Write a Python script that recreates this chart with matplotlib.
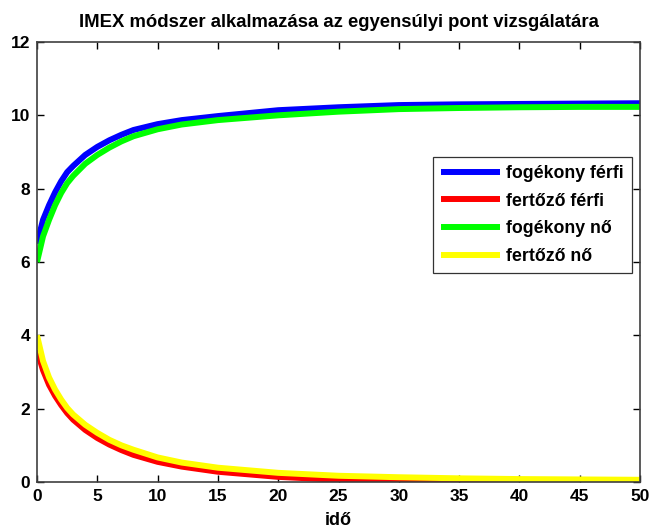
import numpy as np
import matplotlib
matplotlib.use("Agg")
import matplotlib.pyplot as plt

# values
t = [0, 0.5, 1, 1.5, 2, 2.5, 3, 4, 5, 6, 7, 8, 10, 12, 15, 20, 25, 30, 35, 40, 45, 50]
fogekony_ferfi = [6.5, 7.15, 7.55, 7.9, 8.2, 8.45, 8.62, 8.92, 9.14, 9.32, 9.47, 9.6, 9.76, 9.87, 9.98, 10.14, 10.22, 10.28, 10.3, 10.31, 10.32, 10.33]
fertozo_ferfi = [3.6, 3.05, 2.65, 2.35, 2.1, 1.88, 1.7, 1.42, 1.2, 1.02, 0.87, 0.74, 0.55, 0.42, 0.28, 0.14, 0.06, 0.02, 0.01, 0.0, 0.0, 0.0]
fogekony_no = [6.0, 6.7, 7.15, 7.55, 7.88, 8.15, 8.35, 8.68, 8.92, 9.12, 9.29, 9.43, 9.62, 9.75, 9.87, 10.0, 10.1, 10.17, 10.2, 10.22, 10.23, 10.23]
fertozo_no = [4.0, 3.3, 2.85, 2.52, 2.25, 2.02, 1.84, 1.56, 1.34, 1.15, 1.0, 0.88, 0.67, 0.53, 0.39, 0.25, 0.17, 0.13, 0.1, 0.08, 0.07, 0.06]

series = [
    ("fogékony férfi", fogekony_ferfi, "#0000ff"),
    ("fertőző férfi", fertozo_ferfi, "#ff0000"),
    ("fogékony nő", fogekony_no, "#00ff00"),
    ("fertőző nő", fertozo_no, "#ffff00"),
]

plt.rcParams['font.family'] = ['Liberation Sans', 'DejaVu Sans']
plt.rcParams['font.weight'] = 'bold'

fig = plt.figure(figsize=(6.51, 5.32), dpi=100)
ax = fig.add_axes([37 / 651, 1 - 482 / 532, 603 / 651, 440 / 532])

for name, vals, col in series:
    ax.plot(t, vals, color=col, linewidth=4.3, label=name, solid_capstyle='butt')

ax.set_xlim(0, 50)
ax.set_ylim(0, 12)
ax.set_xticks(np.arange(0, 51, 5))
ax.set_yticks(np.arange(0, 13, 2))
ax.tick_params(direction='in', top=True, right=True, length=5, width=1,
               labelsize=12.5, colors='#000000', pad=5)
for lab in ax.get_xticklabels() + ax.get_yticklabels():
    lab.set_fontweight('bold')
for sp in ax.spines.values():
    sp.set_color('#404040')
    sp.set_linewidth(1.2)

ax.set_title("IMEX módszer alkalmazása az egyensúlyi pont vizsgálatára",
             fontsize=13.3, fontweight='bold', pad=11)
ax.set_xlabel("idő", fontsize=13, fontweight='bold', labelpad=6)

leg = ax.legend(loc='upper left', bbox_to_anchor=(396 / 603, (482 - 157) / 440),
                fontsize=12.8, frameon=True, fancybox=False, edgecolor='#000000',
                borderaxespad=0, handlelength=3.3, handletextpad=0.35,
                labelspacing=0.6, borderpad=0.45)
leg.get_frame().set_linewidth(0.9)
for txt in leg.get_texts():
    txt.set_fontweight('bold')

fig.savefig("out.png", dpi=100)
